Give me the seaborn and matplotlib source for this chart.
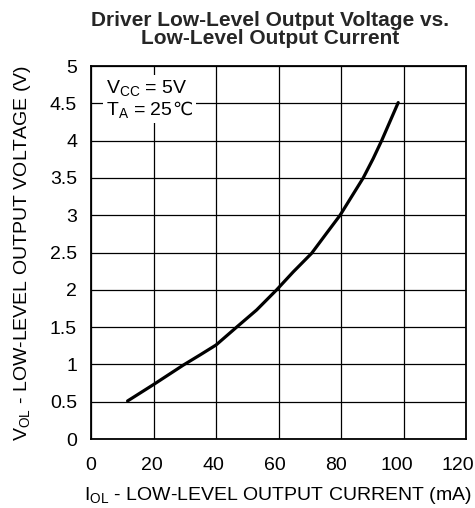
import matplotlib
matplotlib.use("Agg")
import matplotlib.pyplot as plt
import matplotlib.transforms as mtransforms
from matplotlib.offsetbox import TextArea, HPacker, VPacker, AnchoredOffsetbox
import seaborn as sns
import pandas as pd

# Courbe
courant_ma = [11.7, 20, 29.5, 35, 40, 46.6, 53.0, 59.4, 64.7, 70.6, 75.4, 79.7, 83.4, 87.1, 90.3, 93.0, 98.3]
tension_v = [0.51, 0.73, 0.99, 1.13, 1.26, 1.50, 1.73, 2.00, 2.24, 2.49, 2.76, 3.00, 3.25, 3.50, 3.76, 4.00, 4.51]

x_ticks = [0, 20, 40, 60, 80, 100, 120]
y_ticks = [0, 0.5, 1, 1.5, 2, 2.5, 3, 3.5, 4, 4.5, 5]
y_tick_labels = ["0", "0.5", "1", "1.5", "2", "2.5", "3", "3.5", "4", "4.5", "5"]

df = pd.DataFrame({"courant": courant_ma, "tension": tension_v})

sns.set_style("white")
plt.rcParams["font.family"] = ["Liberation Sans", "DejaVu Sans"]
plt.rcParams["mathtext.default"] = "regular"

fig = plt.figure(figsize=(4.75, 5.08), dpi=100)
ax = fig.add_axes([0.1916, 0.1358, 0.7895, 0.7342])

sns.lineplot(data=df, x="courant", y="tension", color="black", linewidth=2.3, ax=ax)

ax.set_xlim(0, 120)
ax.set_ylim(0, 5)
ax.set_xticks(x_ticks)
ax.set_yticks(y_ticks)
ax.set_yticklabels(y_tick_labels)
ax.grid(True, color="black", linewidth=0.9)
ax.set_axisbelow(True)
for s in ax.spines.values():
    s.set_color("black")
    s.set_linewidth(1.3)
ax.tick_params(axis="both", length=0, labelsize=14, colors="black")
ax.tick_params(axis="x", pad=13)
ax.tick_params(axis="y", pad=10)

# les étiquettes de l'axe x glissent un peu vers la gauche dans l'original
for val, lab in zip(x_ticks, ax.get_xticklabels()):
    decal = mtransforms.ScaledTranslation(-val / 15 / 100, 0, fig.dpi_scale_trans)
    lab.set_transform(lab.get_transform() + decal)

ax.set_xlabel("I$_{OL}$ - LOW-LEVEL OUTPUT CURRENT (mA)", fontsize=14, labelpad=8, color="black")
ax.set_ylabel("V$_{OL}$ - LOW-LEVEL OUTPUT VOLTAGE (V)", fontsize=14, labelpad=12, color="black")
ax.set_title("Driver Low-Level Output Voltage vs.\nLow-Level Output Current",
             fontsize=15, fontweight="bold", linespacing=0.9, pad=16, x=0.477)

# encadré Vcc / Ta (le signe ℃ vient de DejaVu Sans)
props = dict(fontsize=14, color="black")
ligne1 = TextArea("V$_{CC}$ = 5V", textprops=props)
ligne2 = HPacker(children=[TextArea("T$_A$ = 25", textprops=props),
                           TextArea("\u2103", textprops=dict(props, family="DejaVu Sans", fontsize=13))],
                 align="baseline", pad=0, sep=-1)
encadre = VPacker(children=[ligne1, ligne2], align="left", pad=0, sep=1)
boite = AnchoredOffsetbox(loc="upper left", child=encadre, pad=0.25, borderpad=0,
                          frameon=True, bbox_to_anchor=(0.032, 0.976),
                          bbox_transform=ax.transAxes)
boite.patch.set_facecolor("white")
boite.patch.set_edgecolor("none")
ax.add_artist(boite)

fig.savefig("out.png", dpi=100)
